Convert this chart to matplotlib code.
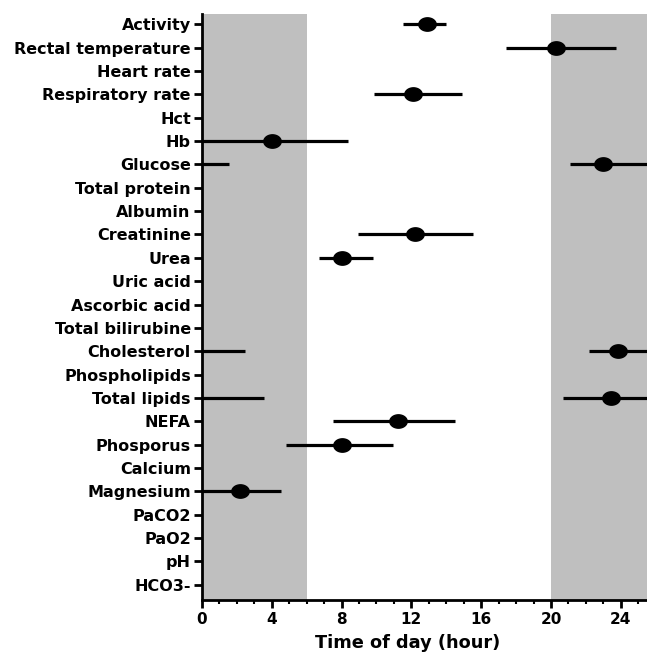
import matplotlib
matplotlib.use("Agg")
import matplotlib.pyplot as plt
import numpy as np
from matplotlib.path import Path

categories = ["Activity", "Rectal temperature", "Heart rate", "Respiratory rate", "Hct", "Hb",
              "Glucose", "Total protein", "Albumin", "Creatinine", "Urea", "Uric acid",
              "Ascorbic acid", "Total bilirubine", "Cholesterol", "Phospholipids", "Total lipids",
              "NEFA", "Phosporus", "Calcium", "Magnesium", "PaCO2", "PaO2", "pH", "HCO3-"]

# acrophase (hour) and confidence limits (hours, upper may exceed 24 -> wraps around)
rhythm_names = ["Activity", "Rectal temperature", "Respiratory rate", "Hb", "Glucose",
                "Creatinine", "Urea", "Cholesterol", "Total lipids", "NEFA", "Phosporus", "Magnesium"]
acrophase = [12.9, 20.3, 12.1, 4.0, 23.0, 12.2, 8.0, 23.85, 23.45, 11.25, 8.0, 2.2]
lower_lim = [11.5, 17.4, 9.85, -0.3, 21.1, 8.95, 6.7, 22.15, 20.7, 7.5, 4.8, -0.2]
upper_lim = [14.0, 23.7, 14.9, 8.35, 25.55, 15.55, 9.8, 26.45, 27.55, 14.5, 10.95, 4.55]

dark_periods = [(0, 6), (20, 25.5)]
xticks = [0, 4, 8, 12, 16, 20, 24]

plt.rcParams['font.family'] = ['DejaVu Sans']
plt.rcParams['font.weight'] = 'bold'

fig = plt.figure(figsize=(6.47, 6.55), dpi=100)
ax = fig.add_axes([0.312, 0.084, 0.688, 0.895])

for a, b in dark_periods:
    ax.axvspan(a, b, color='#bfbfbf', lw=0, zorder=0)

ypos = {c: i for i, c in enumerate(categories)}

# ellipse marker
t = np.linspace(0, 2 * np.pi, 60)
ell = Path(np.column_stack([1.3 * np.cos(t), np.sin(t)]), closed=True)

for name, c, lo, hi in zip(rhythm_names, acrophase, lower_lim, upper_lim):
    y = ypos[name]
    ax.plot([lo, hi], [y, y], color='black', lw=2.3, solid_capstyle='butt', zorder=2)
    if hi > 24:
        ax.plot([0, hi - 24], [y, y], color='black', lw=2.3, solid_capstyle='butt', zorder=2)
    ax.plot([c], [y], marker=ell, markersize=12.5, color='black', zorder=3, linestyle='none')

ax.set_xlim(0, 25.5)
ax.set_ylim(24.65, -0.45)
ax.set_yticks(range(len(categories)))
ax.set_yticklabels(categories, fontsize=11.5, fontweight='bold')
ax.set_xticks(xticks)
ax.set_xticklabels([str(v) for v in xticks], fontsize=11, fontweight='bold')
ax.set_xticks(np.arange(0, 26, 1), minor=True)
ax.tick_params(axis='y', length=6, width=2, pad=2)
ax.tick_params(axis='x', which='major', length=6, width=2, pad=3)
ax.tick_params(axis='x', which='minor', length=3, width=1.5)
ax.set_xlabel("Time of day (hour)", fontsize=12.8, fontweight='bold')
ax.xaxis.set_label_coords(0.463, -0.058)

for s in ['top', 'right']:
    ax.spines[s].set_visible(False)
for s in ['left', 'bottom']:
    ax.spines[s].set_linewidth(2)

fig.savefig("out.png", dpi=100)
